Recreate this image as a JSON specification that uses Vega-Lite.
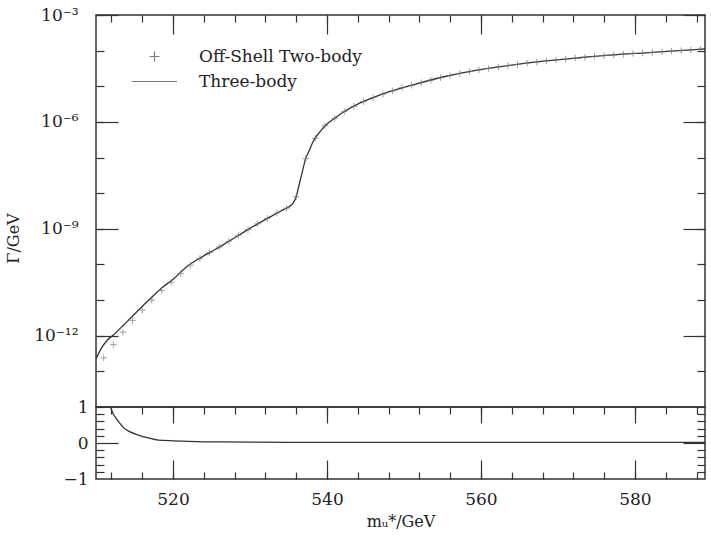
{
  "$schema": "https://vega.github.io/schema/vega-lite/v6.json",
  "background": "white",
  "spacing": 0,
  "bounds": "flush",
  "config": {
    "view": {"stroke": "#333", "strokeWidth": 1.5},
    "axis": {"labelFont": "DejaVu Serif", "titleFont": "DejaVu Serif", "labelFontSize": 17, "titleFontSize": 16, "titleFontWeight": "normal", "labelColor": "#222", "titleColor": "#222", "tickColor": "#333", "tickWidth": 1.2, "grid": false, "domain": false, "labelOverlap": false},
    "legend": {"labelFont": "DejaVu Serif"}
  },
  "datasets": {
    "three": [
      {"m": 510.0, "gamma": 2.24e-13}, {"m": 510.7, "gamma": 4.47e-13}, {"m": 511.5, "gamma": 7.59e-13},
      {"m": 512.3, "gamma": 1.07e-12}, {"m": 513.5, "gamma": 1.91e-12}, {"m": 514.5, "gamma": 3.16e-12},
      {"m": 515.8, "gamma": 6.03e-12}, {"m": 517.1, "gamma": 1.12e-11}, {"m": 518.6, "gamma": 2.24e-11},
      {"m": 520.1, "gamma": 3.98e-11}, {"m": 521.7, "gamma": 8.32e-11}, {"m": 523.2, "gamma": 1.38e-10},
      {"m": 524.8, "gamma": 2.19e-10}, {"m": 526.5, "gamma": 3.55e-10}, {"m": 528.0, "gamma": 5.62e-10},
      {"m": 529.5, "gamma": 8.91e-10}, {"m": 531.0, "gamma": 1.38e-9}, {"m": 532.5, "gamma": 2.09e-9},
      {"m": 534.0, "gamma": 3.16e-9}, {"m": 535.0, "gamma": 4.07e-9}, {"m": 535.6, "gamma": 5.25e-9},
      {"m": 536.0, "gamma": 7.94e-9}, {"m": 536.4, "gamma": 1.78e-8}, {"m": 536.8, "gamma": 3.98e-8},
      {"m": 537.2, "gamma": 8.91e-8}, {"m": 537.7, "gamma": 1.58e-7}, {"m": 538.2, "gamma": 2.82e-7},
      {"m": 539.0, "gamma": 5.01e-7}, {"m": 539.9, "gamma": 8.32e-7}, {"m": 541.0, "gamma": 1.26e-6},
      {"m": 542.1, "gamma": 1.86e-6}, {"m": 544.0, "gamma": 3.16e-6}, {"m": 546.0, "gamma": 4.79e-6},
      {"m": 548.0, "gamma": 6.92e-6}, {"m": 551.2, "gamma": 1.10e-5}, {"m": 555.5, "gamma": 1.91e-5},
      {"m": 559.7, "gamma": 2.88e-5}, {"m": 564.2, "gamma": 3.98e-5}, {"m": 568.4, "gamma": 5.13e-5},
      {"m": 572.7, "gamma": 6.31e-5}, {"m": 577.1, "gamma": 7.59e-5}, {"m": 581.4, "gamma": 8.71e-5},
      {"m": 585.7, "gamma": 1.00e-4}, {"m": 589.4, "gamma": 1.12e-4}
    ],
    "two": [
      {"m": 511.00, "gamma": 2.40e-13, "series": "Off-Shell Two-body"},
      {"m": 512.25, "gamma": 5.62e-13, "series": "Off-Shell Two-body"},
      {"m": 513.50, "gamma": 1.26e-12, "series": "Off-Shell Two-body"},
      {"m": 514.75, "gamma": 2.69e-12, "series": "Off-Shell Two-body"},
      {"m": 516.00, "gamma": 5.25e-12, "series": "Off-Shell Two-body"},
      {"m": 517.25, "gamma": 1.00e-11, "series": "Off-Shell Two-body"},
      {"m": 518.50, "gamma": 1.86e-11, "series": "Off-Shell Two-body"},
      {"m": 519.75, "gamma": 3.16e-11, "series": "Off-Shell Two-body"},
      {"m": 521.00, "gamma": 5.62e-11, "series": "Off-Shell Two-body"},
      {"m": 522.25, "gamma": 9.55e-11, "series": "Off-Shell Two-body"},
      {"m": 523.50, "gamma": 1.48e-10, "series": "Off-Shell Two-body"},
      {"m": 524.75, "gamma": 2.14e-10, "series": "Off-Shell Two-body"},
      {"m": 526.00, "gamma": 3.09e-10, "series": "Off-Shell Two-body"},
      {"m": 527.25, "gamma": 4.47e-10, "series": "Off-Shell Two-body"},
      {"m": 528.50, "gamma": 6.61e-10, "series": "Off-Shell Two-body"},
      {"m": 529.75, "gamma": 9.55e-10, "series": "Off-Shell Two-body"},
      {"m": 531.00, "gamma": 1.38e-9, "series": "Off-Shell Two-body"},
      {"m": 532.25, "gamma": 1.95e-9, "series": "Off-Shell Two-body"},
      {"m": 533.50, "gamma": 2.75e-9, "series": "Off-Shell Two-body"},
      {"m": 534.75, "gamma": 3.80e-9, "series": "Off-Shell Two-body"},
      {"m": 536.00, "gamma": 7.94e-9, "series": "Off-Shell Two-body"},
      {"m": 537.25, "gamma": 9.33e-8, "series": "Off-Shell Two-body"},
      {"m": 538.50, "gamma": 3.47e-7, "series": "Off-Shell Two-body"},
      {"m": 539.75, "gamma": 7.76e-7, "series": "Off-Shell Two-body"},
      {"m": 541.00, "gamma": 1.26e-6, "series": "Off-Shell Two-body"},
      {"m": 542.25, "gamma": 1.95e-6, "series": "Off-Shell Two-body"},
      {"m": 543.50, "gamma": 2.75e-6, "series": "Off-Shell Two-body"},
      {"m": 544.75, "gamma": 3.72e-6, "series": "Off-Shell Two-body"},
      {"m": 546.00, "gamma": 4.79e-6, "series": "Off-Shell Two-body"},
      {"m": 547.25, "gamma": 6.03e-6, "series": "Off-Shell Two-body"},
      {"m": 548.50, "gamma": 7.41e-6, "series": "Off-Shell Two-body"},
      {"m": 549.75, "gamma": 9.12e-6, "series": "Off-Shell Two-body"},
      {"m": 551.00, "gamma": 1.07e-5, "series": "Off-Shell Two-body"},
      {"m": 552.25, "gamma": 1.26e-5, "series": "Off-Shell Two-body"},
      {"m": 553.50, "gamma": 1.48e-5, "series": "Off-Shell Two-body"},
      {"m": 554.75, "gamma": 1.74e-5, "series": "Off-Shell Two-body"},
      {"m": 556.00, "gamma": 2.00e-5, "series": "Off-Shell Two-body"},
      {"m": 557.25, "gamma": 2.29e-5, "series": "Off-Shell Two-body"},
      {"m": 558.50, "gamma": 2.57e-5, "series": "Off-Shell Two-body"},
      {"m": 559.75, "gamma": 2.88e-5, "series": "Off-Shell Two-body"},
      {"m": 561.00, "gamma": 3.16e-5, "series": "Off-Shell Two-body"},
      {"m": 562.25, "gamma": 3.47e-5, "series": "Off-Shell Two-body"},
      {"m": 563.50, "gamma": 3.80e-5, "series": "Off-Shell Two-body"},
      {"m": 564.75, "gamma": 4.07e-5, "series": "Off-Shell Two-body"},
      {"m": 566.00, "gamma": 4.47e-5, "series": "Off-Shell Two-body"},
      {"m": 567.25, "gamma": 4.79e-5, "series": "Off-Shell Two-body"},
      {"m": 568.50, "gamma": 5.13e-5, "series": "Off-Shell Two-body"},
      {"m": 569.75, "gamma": 5.50e-5, "series": "Off-Shell Two-body"},
      {"m": 571.00, "gamma": 5.75e-5, "series": "Off-Shell Two-body"},
      {"m": 572.25, "gamma": 6.17e-5, "series": "Off-Shell Two-body"},
      {"m": 573.50, "gamma": 6.46e-5, "series": "Off-Shell Two-body"},
      {"m": 574.75, "gamma": 6.92e-5, "series": "Off-Shell Two-body"},
      {"m": 576.00, "gamma": 7.24e-5, "series": "Off-Shell Two-body"},
      {"m": 577.25, "gamma": 7.59e-5, "series": "Off-Shell Two-body"},
      {"m": 578.50, "gamma": 7.94e-5, "series": "Off-Shell Two-body"},
      {"m": 579.75, "gamma": 8.32e-5, "series": "Off-Shell Two-body"},
      {"m": 581.00, "gamma": 8.51e-5, "series": "Off-Shell Two-body"},
      {"m": 582.25, "gamma": 8.91e-5, "series": "Off-Shell Two-body"},
      {"m": 583.50, "gamma": 9.33e-5, "series": "Off-Shell Two-body"},
      {"m": 584.75, "gamma": 9.77e-5, "series": "Off-Shell Two-body"},
      {"m": 586.00, "gamma": 1.00e-4, "series": "Off-Shell Two-body"},
      {"m": 587.25, "gamma": 1.05e-4, "series": "Off-Shell Two-body"},
      {"m": 588.50, "gamma": 1.10e-4, "series": "Off-Shell Two-body"}
    ],
    "ratio": [
      {"m": 511.9, "r": 1.0}, {"m": 512.2, "r": 0.82}, {"m": 512.6, "r": 0.69}, {"m": 513.0, "r": 0.57},
      {"m": 513.6, "r": 0.42}, {"m": 514.5, "r": 0.30}, {"m": 515.5, "r": 0.22}, {"m": 516.8, "r": 0.14},
      {"m": 518.1, "r": 0.08}, {"m": 520.1, "r": 0.06}, {"m": 523.0, "r": 0.04}, {"m": 526.6, "r": 0.03},
      {"m": 530.0, "r": 0.025}, {"m": 535.0, "r": 0.02}, {"m": 545.0, "r": 0.02}, {"m": 560.0, "r": 0.02},
      {"m": 575.0, "r": 0.02}, {"m": 589.4, "r": 0.02}
    ]
  },
  "vconcat": [
    {
      "width": 609,
      "height": 392,
      "resolve": {"axis": {"x": "independent", "y": "independent"}},
      "layer": [
        {
          "data": {"name": "three"},
          "mark": {"type": "line", "color": "#333", "strokeWidth": 1.3, "clip": true, "interpolate": "monotone"},
          "encoding": {
            "x": {"field": "m", "type": "quantitative", "scale": {"domain": [510, 589.1], "nice": false, "zero": false},
                  "axis": {"orient": "top", "values": [520, 540, 560, 580], "tickSize": 19, "offset": -19, "labels": false, "title": null}},
            "y": {"field": "gamma", "type": "quantitative", "scale": {"type": "log", "domain": [1e-14, 1e-3], "nice": false},
                  "axis": {"orient": "left", "values": [1e-3, 1e-6, 1e-9, 1e-12], "tickSize": 22, "offset": -22, "labelPadding": 18,
                           "labelExpr": "datum.value < 1e-11 ? '10⁻¹²' : datum.value < 1e-8 ? '10⁻⁹' : datum.value < 1e-5 ? '10⁻⁶' : '10⁻³'",
                           "title": "Γ/GeV", "titlePadding": 12, "titleY": 223}}
          }
        },
        {
          "data": {"name": "two"},
          "mark": {"type": "point", "filled": false, "stroke": "#777", "strokeWidth": 1, "size": 42, "clip": true},
          "encoding": {
            "x": {"field": "m", "type": "quantitative",
                  "axis": {"orient": "top", "values": [512, 516, 520, 524, 528, 532, 536, 540, 544, 548, 552, 556, 560, 564, 568, 572, 576, 580, 584, 588], "tickSize": 7, "offset": -7, "labels": false, "title": null}},
            "y": {"field": "gamma", "type": "quantitative",
                  "axis": {"orient": "left", "values": [1e-3, 1e-4, 1e-5, 1e-6, 1e-7, 1e-8, 1e-9, 1e-10, 1e-11, 1e-12, 1e-13, 1e-14], "tickSize": 8, "offset": -8, "labels": false, "title": null}},
            "shape": {"field": "series", "type": "nominal",
                      "scale": {"domain": ["Off-Shell Two-body", "Three-body"], "range": ["M-1,0L1,0M0,-1L0,1", "M-4.5,0L4.5,0"]},
                      "legend": {"orient": "none", "legendX": 50, "legendY": 33, "title": null, "padding": 0, "symbolSize": 100,
                                 "symbolStrokeWidth": 1.2, "symbolStrokeColor": "#444", "symbolFillColor": "transparent",
                                 "labelFontSize": 17, "labelOffset": 36, "labelLimit": 400, "rowPadding": 7, "labelColor": "#222"}}
          }
        },
        {
          "data": {"name": "three"},
          "mark": {"type": "line", "strokeOpacity": 0, "clip": true},
          "encoding": {
            "x": {"field": "m", "type": "quantitative", "axis": null},
            "y": {"field": "gamma", "type": "quantitative",
                  "axis": {"orient": "right", "values": [1e-3, 1e-6, 1e-9, 1e-12], "tickSize": 22, "offset": -22, "labels": false, "title": null}}
          }
        },
        {
          "data": {"name": "three"},
          "mark": {"type": "line", "strokeOpacity": 0, "clip": true},
          "encoding": {
            "x": {"field": "m", "type": "quantitative", "axis": null},
            "y": {"field": "gamma", "type": "quantitative",
                  "axis": {"orient": "right", "values": [1e-3, 1e-4, 1e-5, 1e-6, 1e-7, 1e-8, 1e-9, 1e-10, 1e-11, 1e-12, 1e-13, 1e-14], "tickSize": 8, "offset": -8, "labels": false, "title": null}}
          }
        }
      ]
    },
    {
      "width": 609,
      "height": 72,
      "resolve": {"axis": {"x": "independent", "y": "independent"}},
      "layer": [
        {
          "data": {"name": "ratio"},
          "mark": {"type": "line", "color": "#333", "strokeWidth": 1.3, "clip": true, "interpolate": "monotone"},
          "encoding": {
            "x": {"field": "m", "type": "quantitative", "scale": {"domain": [510, 589.1], "nice": false, "zero": false},
                  "axis": {"orient": "bottom", "values": [520, 540, 560, 580], "tickSize": 19, "offset": -19, "labelPadding": 12, "title": "mᵤ*/GeV", "titlePadding": 6}},
            "y": {"field": "r", "type": "quantitative", "scale": {"domain": [-1, 1], "nice": false, "zero": false},
                  "axis": {"orient": "left", "values": [0], "labelExpr": "'0'", "tickSize": 22, "offset": -22, "labelPadding": 8, "title": null}}
          }
        },
        {
          "data": {"name": "ratio"},
          "mark": {"type": "line", "strokeOpacity": 0, "clip": true},
          "encoding": {
            "x": {"field": "m", "type": "quantitative", "axis": null},
            "y": {"field": "r", "type": "quantitative",
                  "axis": {"orient": "left", "values": [-1, 1], "format": "d", "tickSize": 0, "labelPadding": 8, "labelFlush": false, "title": null}}
          }
        },
        {
          "data": {"name": "ratio"},
          "mark": {"type": "line", "strokeOpacity": 0, "clip": true},
          "encoding": {
            "x": {"field": "m", "type": "quantitative",
                  "axis": {"orient": "bottom", "values": [512, 516, 520, 524, 528, 532, 536, 540, 544, 548, 552, 556, 560, 564, 568, 572, 576, 580, 584, 588], "tickSize": 7, "offset": -7, "labels": false, "title": null}},
            "y": {"field": "r", "type": "quantitative",
                  "axis": {"orient": "left", "values": [-0.8, -0.6, -0.4, -0.2, 0.2, 0.4, 0.6, 0.8], "tickSize": 8, "offset": -8, "labels": false, "title": null}}
          }
        },
        {
          "data": {"name": "ratio"},
          "mark": {"type": "line", "strokeOpacity": 0, "clip": true},
          "encoding": {
            "x": {"field": "m", "type": "quantitative",
                  "axis": {"orient": "top", "values": [520, 540, 560, 580], "tickSize": 16, "offset": -16, "labels": false, "title": null}},
            "y": {"field": "r", "type": "quantitative",
                  "axis": {"orient": "right", "values": [0], "tickSize": 22, "offset": -22, "labels": false, "title": null}}
          }
        },
        {
          "data": {"name": "ratio"},
          "mark": {"type": "line", "strokeOpacity": 0, "clip": true},
          "encoding": {
            "x": {"field": "m", "type": "quantitative",
                  "axis": {"orient": "top", "values": [512, 516, 520, 524, 528, 532, 536, 540, 544, 548, 552, 556, 560, 564, 568, 572, 576, 580, 584, 588], "tickSize": 7, "offset": -7, "labels": false, "title": null}},
            "y": {"field": "r", "type": "quantitative",
                  "axis": {"orient": "right", "values": [-0.8, -0.6, -0.4, -0.2, 0.2, 0.4, 0.6, 0.8], "tickSize": 8, "offset": -8, "labels": false, "title": null}}
          }
        }
      ]
    }
  ]
}
